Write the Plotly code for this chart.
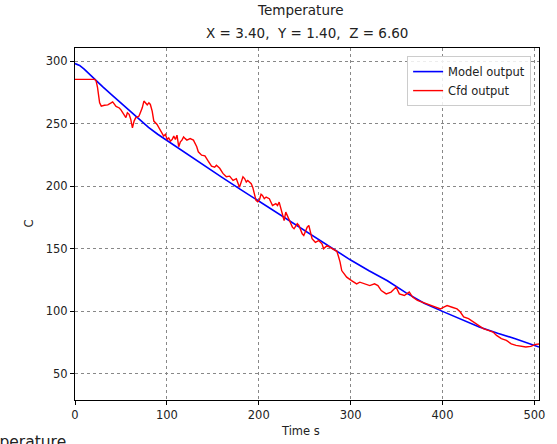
import plotly.graph_objects as go

# Model output (blue)
model_t = [0, 5, 10, 15, 20, 30, 40, 50, 60, 70, 80, 90, 100, 120, 140, 160, 180, 200,
           220, 240, 260, 280, 300, 320, 340, 360, 380, 400, 420, 440, 460, 480, 505]
model_T = [298, 296.5, 293.5, 290, 286, 279.5, 273, 266.5, 259.5, 253, 247, 241.5, 236.5,
           226.5, 216.5, 207, 197.5, 188, 178.5, 169, 159.5, 150, 141, 132.5, 124.5, 115,
           106.5, 100, 93.5, 87.5, 82.5, 78, 71.5]

# Cfd output (red)
cfd_t = [0, 21.5, 23, 24.5, 26.8, 28.6, 32, 35.7, 39.3, 41, 44.7, 48.2, 50, 53.6, 55.4, 57,
         58.9, 60.7, 62.5, 64.3, 66, 69.7, 73.2, 75, 77, 78.6, 80.4, 82, 84, 85.8, 89.3, 93,
         96.5, 98.3, 100.4, 102, 103.9, 105.7, 107.5, 109.3, 111, 112.9, 114.7, 116.4, 118.2,
         120, 121.8, 125.3, 128.9, 132.5, 134.2, 137.8, 141.4, 145, 148.6, 152, 153.9, 157.5,
         161, 164.7, 168.3, 172, 175.6, 179, 182.8, 184.6, 186.4, 188, 190, 191.8, 193.5, 195,
         197, 198.9, 200.7, 202.5, 204, 206, 208, 211.5, 213.3, 215, 218.6, 220.4, 222.2,
         225.8, 227.6, 229.4, 233, 236.6, 238.4, 241.9, 243.7, 247.3, 249, 252.7, 254.5, 258,
         261.6, 265.2, 268.8, 270.6, 274.2, 277.7, 281.4, 285, 286.7, 288.5, 290.3, 295.7, 301,
         306.5, 310, 315.8, 320.8, 326, 329.7, 333.3, 338.7, 344, 349.5, 353, 358.4, 363.8,
         367.4, 372.7, 378, 383.5, 389, 394, 397.8, 401.4, 405, 410.4, 415.8, 419.4, 423,
         428.3, 433.7, 439, 444.4, 449.8, 455, 458.8, 464, 469.5, 474.8, 480, 485.5, 490.7,
         496, 501.4, 505]
cfd_T = [285.3, 285.3, 284, 279, 266.6, 264, 264.7, 265, 266.6, 267.4, 263.8, 262.5, 261,
         257.4, 254.8, 258.6, 257.4, 253.4, 246.6, 252, 254.6, 256, 262.6, 268, 266.6, 265,
         266.6, 265.3, 260, 252, 249.3, 243.9, 240, 241.4, 237.3, 238.6, 236, 237.3, 240,
         237.3, 240.8, 231.5, 235.5, 236.8, 239.4, 238, 236.8, 238, 236.8, 231.5, 227.5,
         224.8, 224.3, 220, 216, 215.2, 216.8, 214.3, 210.2, 207.5, 208, 204.6, 206, 199.2,
         207.5, 206.1, 203.4, 204.6, 203.4, 202, 199, 193.5, 188.6, 187.5, 189, 193.5, 192.6,
         190, 191.3, 190, 187.3, 184.6, 186, 184.6, 187.3, 176.6, 172.6, 179.3, 172.6, 167.3,
         166, 170, 168.6, 162, 160.6, 167.3, 168.6, 158, 155.2, 156.6, 154, 150, 152.5, 151.2,
         150, 148, 144, 139.4, 132.6, 127.3, 124.6, 122, 123.3, 122, 120.6, 122, 120.6, 116.6,
         114, 115.4, 119.4, 114, 112.7, 115.4, 111.4, 108.7, 107.4, 106, 104.6, 103.3, 102,
         103.3, 104.6, 103.3, 102, 99.5, 95.5, 94.2, 91.5, 88.8, 86.2, 84.8, 83.5, 80.8, 78.2,
         76.8, 74.1, 72.8, 72, 71.5, 72, 73.6, 74]

x_ticks = [0, 100, 200, 300, 400, 500]
y_ticks = [50, 100, 150, 200, 250, 300]

FONT = "DejaVu Sans, Liberation Sans, sans-serif"

fig = go.Figure()
fig.add_trace(go.Scatter(x=model_t, y=model_T, mode="lines", name="Model output",
                         line=dict(color="#0000ff", width=1.6)))
fig.add_trace(go.Scatter(x=cfd_t, y=cfd_T, mode="lines", name="Cfd output",
                         line=dict(color="#ff0000", width=1.4)))

axis_common = dict(showline=True, linecolor="black", linewidth=1, mirror=True,
                   ticks="outside", ticklen=4, tickcolor="black", tickwidth=1,
                   showgrid=True, gridcolor="#888888", gridwidth=0.8, griddash="dot",
                   zeroline=False, tickfont=dict(family=FONT, size=11.5, color="#222"))

fig.update_xaxes(range=[0, 505], tickvals=x_ticks, ticktext=[str(v) for v in x_ticks],
                 **axis_common)
fig.update_yaxes(range=[29.2, 310.4], tickvals=y_ticks, ticktext=[str(v) for v in y_ticks],
                 **axis_common)

fig.update_layout(
    width=557, height=444,
    margin=dict(l=75, r=12, t=48, b=44),
    paper_bgcolor="white", plot_bgcolor="white",
    font=dict(family=FONT, color="#222"),
    showlegend=True,
    legend=dict(x=0.983, y=0.977, xanchor="right", yanchor="top",
                bgcolor="rgba(255,255,255,0.85)", bordercolor="#cccccc", borderwidth=1,
                font=dict(family=FONT, size=11.5, color="#222"),
                itemwidth=30, tracegroupgap=0),
    annotations=[
        dict(text="Temperature", xref="paper", yref="paper", x=0.485, y=1.108,
             xanchor="center", yanchor="middle", showarrow=False,
             font=dict(family=FONT, size=13.5, color="#222")),
        dict(text="X = 3.40,\u00a0 Y = 1.40,\u00a0 Z = 6.60", xref="paper", yref="paper",
             x=0.5, y=1.043, xanchor="center", yanchor="middle", showarrow=False,
             font=dict(family=FONT, size=13.5, color="#222")),
        dict(text="Time s", xref="paper", yref="paper", x=0.485, y=-0.088,
             xanchor="center", yanchor="middle", showarrow=False,
             font=dict(family=FONT, size=11.5, color="#222")),
        dict(text="C", xref="paper", yref="paper", x=-0.1, y=0.5, textangle=-90,
             xanchor="center", yanchor="middle", showarrow=False,
             font=dict(family=FONT, size=11.5, color="#222")),
        dict(text="Temperature", xref="paper", yref="paper", x=-0.0149, y=-0.118,
             xanchor="right", yanchor="middle", showarrow=False,
             font=dict(family=FONT, size=15.5, color="#222")),
    ],
)

fig.write_html("out.html", config={"displayModeBar": False},
               post_script="document.body.style.margin='0';document.body.style.padding='0';")
